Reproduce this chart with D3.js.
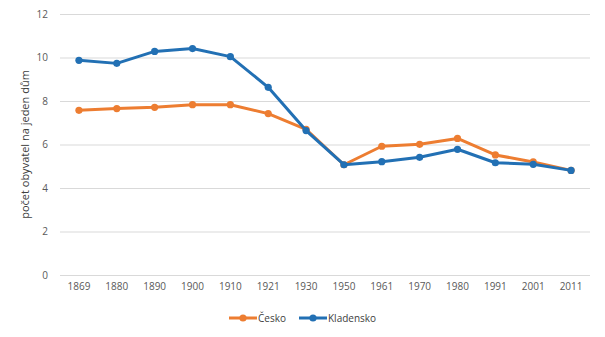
<!DOCTYPE html>
<html><head><meta charset="utf-8">
<script src="https://cdn.jsdelivr.net/npm/d3@7/dist/d3.min.js"></script>
<style>
html,body{margin:0;padding:0;background:#fff;}
svg{display:block;font-family:"Open Sans","Liberation Sans",Arial,sans-serif;}
</style>
</head><body>
<svg id="chart" width="605" height="337"></svg>
<script>
const years = ["1869","1880","1890","1900","1910","1921","1930","1950","1961","1970","1980","1991","2001","2011"];
const cesko = [7.57,7.65,7.71,7.83,7.83,7.42,6.70,5.07,5.92,6.01,6.28,5.52,5.20,4.81];
const kladensko = [9.87,9.73,10.28,10.41,10.04,8.63,6.64,5.07,5.21,5.41,5.78,5.16,5.09,4.81];
const yTicks = [0,2,4,6,8,10,12];
const seriesNames = ["Česko","Kladensko"];
const colors = ["#ED7D31","#2270B4"];
const yTitle = "počet obyvatel na jeden dům";

const FONT = "Open Sans, Liberation Sans, Arial, sans-serif";
const svg = d3.select("#chart");
const m = {left:60, right:590, top:14, bottom:275};
const x = d3.scaleBand().domain(years).range([m.left, m.right]);
const y = d3.scaleLinear().domain([0,12]).range([m.bottom, m.top]);

// gridlines
svg.append("g").selectAll("line").data(yTicks).join("line")
  .attr("x1", m.left).attr("x2", m.right)
  .attr("y1", d=>y(d)+0.5).attr("y2", d=>y(d)+0.5)
  .attr("stroke","#d9d9d9").attr("stroke-width",1);

// y axis labels
const yAxis = d3.axisLeft(y).tickValues(yTicks).tickSize(0).tickPadding(0);
const gy = svg.append("g").attr("transform",`translate(${m.left-12},0)`).call(yAxis);
gy.select(".domain").remove();
gy.selectAll("text").attr("font-size","10px").attr("fill","#595959").attr("font-family",FONT);

// x axis labels
const xAxis = d3.axisBottom(x).tickSize(0).tickPadding(0);
const gx = svg.append("g").attr("transform",`translate(0,${m.bottom+8})`).call(xAxis);
gx.select(".domain").remove();
gx.selectAll("text").attr("font-size","10px").attr("fill","#595959").attr("font-family",FONT);

// y title
svg.append("text")
  .attr("transform",`translate(29,${(m.top+m.bottom)/2}) rotate(-90)`)
  .attr("text-anchor","middle").attr("font-size","11px").attr("fill","#404040")
  .attr("font-family",FONT)
  .text(yTitle);

const data = [cesko, kladensko];
const line = d3.line().x((d,i)=>x(years[i])+x.bandwidth()/2).y(d=>y(d));
data.forEach((s,k)=>{
  const g = svg.append("g");
  g.append("path").datum(s).attr("d",line).attr("fill","none")
    .attr("stroke",colors[k]).attr("stroke-width",3).attr("stroke-linejoin","round");
  g.selectAll("circle").data(s).join("circle")
    .attr("cx",(d,i)=>x(years[i])+x.bandwidth()/2).attr("cy",d=>y(d))
    .attr("r",3.6).attr("fill",colors[k]);
});

// legend
const legX = [229, 299];
const legY = 318;
seriesNames.forEach((n,k)=>{
  const g = svg.append("g").attr("transform",`translate(${legX[k]},${legY})`);
  g.append("line").attr("x1",0).attr("x2",28).attr("y1",0).attr("y2",0)
    .attr("stroke",colors[k]).attr("stroke-width",3);
  g.append("circle").attr("cx",14).attr("cy",0).attr("r",3.6).attr("fill",colors[k]);
  g.append("text").attr("x",29).attr("y",3.5).attr("font-size","10px").attr("fill","#404040")
    .attr("font-family",FONT).text(n);
});
</script>
</body></html>
